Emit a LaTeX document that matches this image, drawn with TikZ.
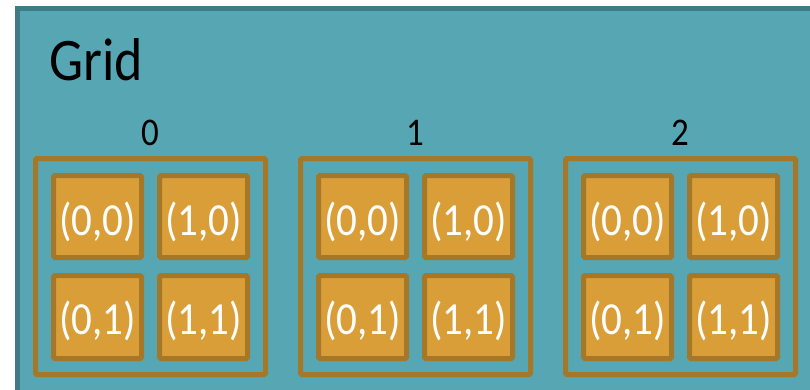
\documentclass[tikz,border=0pt]{standalone}
\usepackage{graphicx}
\usepackage{fontspec}
\setmainfont{Carlito}
\definecolor{gridfill}{HTML}{57A6B3}
\definecolor{griddraw}{HTML}{3F7B85}
\definecolor{cellfill}{HTML}{DA9E38}
\definecolor{celldraw}{HTML}{A47729}
\newcommand{\tallt}[1]{\scalebox{1}[1.12]{#1}}
\tikzset{
  blockbox/.style={draw=celldraw, line width=5pt, rounded corners=1.5pt},
  cellbox/.style={draw=celldraw, fill=cellfill, line width=5pt, rounded corners=1.5pt},
  celltext/.style={text=white, font=\fontsize{41}{41}\selectfont, inner sep=0pt},
  blocklabel/.style={text=black, font=\fontsize{35}{35}\selectfont, inner sep=0pt, anchor=base},
}
\begin{document}
\begin{tikzpicture}[x=1pt,y=-1pt]
\useasboundingbox (0,0) rectangle (810,389);
\fill[white] (0,0) rectangle (810,389);
\begin{scope}
\clip (0,0) rectangle (810,389);
\draw[draw=griddraw, fill=gridfill, line width=5pt] (17.5,8.5) rectangle (840,420);
\end{scope}
\node[anchor=base west, inner sep=0pt, font=\fontsize{54}{54}\selectfont] (gridlabel) at (49,80) {\tallt{Grid}};
\foreach \b/\lab in {0/0,1/1,2/2}{
  \begin{scope}[xshift=\b*265]
    \draw[blockbox] (35.5,158.5) rectangle (265.5,374.5);
    \node[blocklabel] (lab\b) at (150.5,145) {\tallt{\lab}};
    \draw[cellbox] (53.5,175.5) rectangle (141.5,257.5);
    \node[celltext] (c\b00) at (97.5,222) {\tallt{(0,0)}};
    \draw[cellbox] (159.5,175.5) rectangle (247.5,257.5);
    \node[celltext] (c\b10) at (203.5,222) {\tallt{(1,0)}};
    \draw[cellbox] (53.5,275.5) rectangle (141.5,358.5);
    \node[celltext] (c\b01) at (97.5,321) {\tallt{(0,1)}};
    \draw[cellbox] (159.5,275.5) rectangle (247.5,358.5);
    \node[celltext] (c\b11) at (203.5,321) {\tallt{(1,1)}};
  \end{scope}
}
\end{tikzpicture}
\end{document}
